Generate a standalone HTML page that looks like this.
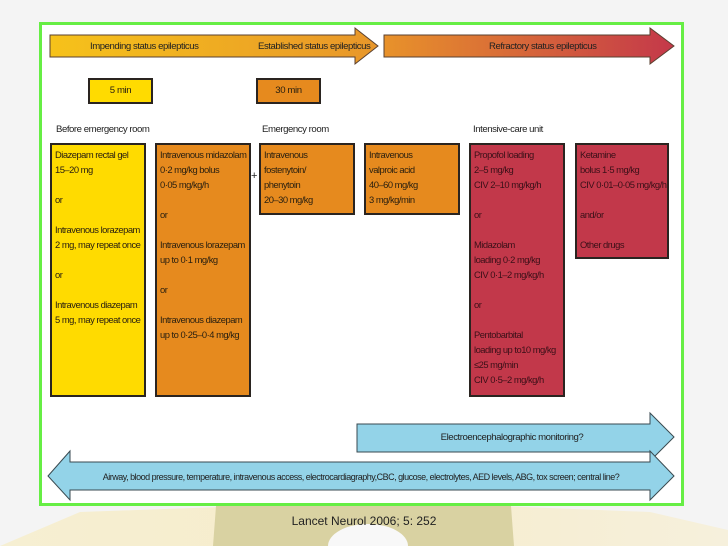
<!DOCTYPE html>
<html style="overflow:hidden;width:728px;height:546px"><head><meta charset="utf-8"><style>
*{margin:0;padding:0;box-sizing:border-box}
body{width:728px;height:546px;background:#f4f4f4;position:relative;overflow:hidden;font-family:"Liberation Sans",sans-serif}
.frame{position:absolute;left:39px;top:22px;width:645px;height:484px;background:#fff;border:3px solid #66ee44}
.b{position:absolute;border:2px solid #2a2420;font-size:9.4px;letter-spacing:-0.5px;line-height:15px;padding:2px 0 0 3px;white-space:nowrap;color:#2a2010;overflow:hidden}
.y{background:#ffdb00}.o{background:#e68a1e}.r{background:#c2384a;color:#3a1018}
.h{position:absolute;font-size:9.6px;letter-spacing:-0.45px;color:#222;white-space:nowrap}
.t{position:absolute;font-size:9.6px;letter-spacing:-0.4px;color:#2a2010;border:2px solid #2a2420;text-align:center;line-height:21px}
svg{position:absolute;left:0;top:0;display:block}
</style></head><body>
<svg width="728" height="546" viewBox="0 0 728 546">
<defs><linearGradient id="bg" x1="0" x2="1"><stop offset="0" stop-color="#f6efd2"/><stop offset="0.5" stop-color="#f7eccc"/><stop offset="1" stop-color="#f6f0dc"/></linearGradient></defs>
<polygon points="0,546 80,512 250,506 500,506 650,512 728,530 728,546" fill="url(#bg)"/>
<polygon points="216,506 511,506 514,546 213,546" fill="#d9d2a2"/>
<path d="M328,546 A40,22 0 0 1 408,546 Z" fill="#f8f8f8"/>
</svg>
<div class="frame"></div>
<svg width="728" height="546" viewBox="0 0 728 546">
<defs>
<linearGradient id="g1" x1="0" x2="1"><stop offset="0" stop-color="#f6c21a"/><stop offset="1" stop-color="#e8962a"/></linearGradient>
<linearGradient id="g2" x1="0" x2="1"><stop offset="0" stop-color="#e8922a"/><stop offset="1" stop-color="#c4384a"/></linearGradient>
</defs>
<polygon points="50,35 355,35 355,28 378,46 355,64 355,57 50,57" fill="url(#g1)" stroke="#5a4030" stroke-width="1"/>
<polygon points="384,35 650,35 650,28 674,46 650,64 650,57 384,57" fill="url(#g2)" stroke="#5a4030" stroke-width="1"/>
<polygon points="357,424 650,424 650,413 674,437 650,461 650,452 357,452" fill="#93d3e8" stroke="#3a4a50" stroke-width="1"/>
<polygon points="48,476 70,451 70,462 650,462 650,451 674,476 650,500 650,490 70,490 70,500" fill="#93d3e8" stroke="#3a4a50" stroke-width="1"/>
<text x="251" y="179" font-family="Liberation Sans" font-size="11" fill="#222">+</text>
<text x="364" y="525" font-family="Liberation Sans" font-size="12" fill="#222" text-anchor="middle">Lancet Neurol 2006; 5: 252</text>
<g font-family="Liberation Sans" font-size="9.6" fill="#222" letter-spacing="-0.45">
<text x="90" y="49">Impending status epilepticus</text>
<text x="258" y="49">Established status epilepticus</text>
<text x="489" y="49">Refractory status epilepticus</text>
<text x="512" y="440" text-anchor="middle">Electroencephalographic monitoring?</text>
<text x="361" y="480" text-anchor="middle" font-size="9" letter-spacing="-0.5">Airway, blood pressure, temperature, intravenous access, electrocardiagraphy,CBC, glucose, electrolytes, AED levels, ABG, tox screen; central line?</text>
</g>
</svg>
<div class="t y" style="left:88px;top:78px;width:65px;height:26px">5 min</div>
<div class="t o" style="left:256px;top:78px;width:65px;height:26px">30 min</div>
<div class="h" style="left:56px;top:124px">Before emergency room</div>
<div class="h" style="left:262px;top:124px">Emergency room</div>
<div class="h" style="left:473px;top:124px">Intensive-care unit</div>
<div class="b y" style="left:50px;top:143px;width:96px;height:254px">Diazepam rectal gel<br>15–20 mg<br><br>or<br><br>Intravenous lorazepam<br>2 mg, may repeat once<br><br>or<br><br>Intravenous diazepam<br>5 mg, may repeat once</div>
<div class="b o" style="left:155px;top:143px;width:96px;height:254px">Intravenous midazolam<br>0·2 mg/kg bolus<br>0·05 mg/kg/h<br><br>or<br><br>Intravenous lorazepam<br>up to 0·1 mg/kg<br><br>or<br><br>Intravenous diazepam<br>up to 0·25–0·4 mg/kg</div>
<div class="b o" style="left:259px;top:143px;width:96px;height:72px">Intravenous<br>fostenytoin/<br>phenytoin<br>20–30 mg/kg</div>
<div class="b o" style="left:364px;top:143px;width:96px;height:72px">Intravenous<br>valproic acid<br>40–60 mg/kg<br>3 mg/kg/min</div>
<div class="b r" style="left:469px;top:143px;width:96px;height:254px">Propofol loading<br>2–5 mg/kg<br>CIV 2–10 mg/kg/h<br><br>or<br><br>Midazolam<br>loading 0·2 mg/kg<br>CIV 0·1–2 mg/kg/h<br><br>or<br><br>Pentobarbital<br>loading up to10 mg/kg<br>≤25 mg/min<br>CIV 0·5–2 mg/kg/h</div>
<div class="b r" style="left:575px;top:143px;width:94px;height:116px">Ketamine<br>bolus 1·5 mg/kg<br>CIV 0·01–0·05 mg/kg/h<br><br>and/or<br><br>Other drugs</div>
</body></html>
